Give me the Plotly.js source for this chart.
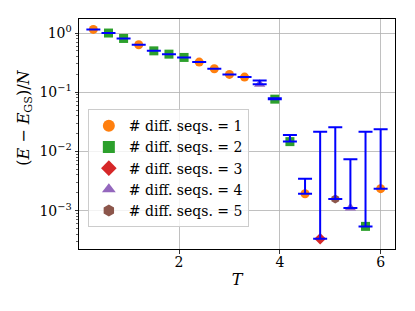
<!DOCTYPE html>
<html><head><meta charset="utf-8">
<script src="https://cdn.plot.ly/plotly-3.0.1.min.js"></script>
<style>html,body{margin:0;padding:0;background:#fff}#chart{width:415px;height:311px}</style>
</head><body><div id="chart"></div>
<script>
// Temperature values
const temperature = [0.3,0.6,0.9,1.2,1.5,1.8,2.1,2.4,2.7,3.0,3.3,3.6,3.9,4.2,4.5,4.8,5.1,5.4,5.7,6.0];
// (E - E_GS)/N
const energy = [1.15,1.0,0.81,0.634,0.50,0.44,0.387,0.323,0.249,0.20,0.18,0.137,0.0764,0.01465,0.00193,0.000335,0.00157,0.00111,0.000542,0.00235];
// upper error (lower error is zero)
const upperErr = [0,0,0,0,0,0,0,0,0,0,0,0.021,0.003,0.00435,0.00154,0.02127,0.0241,0.00627,0.02106,0.02145];
// number of different sequences at each temperature
const nSeqs = [1,2,2,1,2,2,2,1,1,1,1,4,2,2,1,3,5,4,2,1];

const categories = [1,2,3,4,5];
const catColors = ['#ff7f0e','#2ca02c','#d62728','#9467bd','#8c564b'];
const catSymbols = ['circle','square','diamond','triangle-up','hexagon'];
const catSizes = [9,9,9,10,9];

const yTickVals = [1e-3,1e-2,1e-1,1];
const yTickText = ['10<sup>−3</sup>','10<sup>−2</sup>','10<sup>−1</sup>','10<sup>0</sup>'];
const xTickVals = [2,4,6];

const minorVals = [];
for (let d = -4; d <= 0; d++) for (let m = 2; m <= 9; m++) minorVals.push(m * Math.pow(10, d));

const fam = 'DejaVu Serif';
const traces = categories.map((c, i) => {
  const xs = [], ys = [];
  nSeqs.forEach((n, k) => { if (n === c) { xs.push(temperature[k]); ys.push(energy[k]); } });
  return {
    x: xs, y: ys, type: 'scatter', mode: 'markers',
    name: '# diff. seqs. = ' + c, legendgroup: 'g' + c,
    marker: {color: catColors[i], symbol: catSymbols[i], size: catSizes[i], line: {width: 0}}
  };
});
traces.push({
  x: temperature, y: energy, type: 'scatter', mode: 'markers', showlegend: false,
  marker: {color: 'rgba(0,0,0,0)', size: 1},
  error_y: {type: 'data', symmetric: false, array: upperErr, arrayminus: temperature.map(() => 0),
            color: '#0000ff', thickness: 2, width: 7}
});

const layout = {
  width: 415, height: 311,
  margin: {l: 79, r: 20, t: 19, b: 62},
  paper_bgcolor: '#fff', plot_bgcolor: '#fff',
  font: {family: fam, color: '#000', size: 14},
  showlegend: true,
  legend: {x: 0.028, y: 0.608, xanchor: 'left', yanchor: 'top',
           bgcolor: 'rgba(255,255,255,0.8)', bordercolor: '#cccccc', borderwidth: 1,
           font: {family: fam, size: 14, color: '#000'}, tracegroupgap: 0, itemsizing: 'constant'},
  xaxis: {range: [0.015, 6.285], tickmode: 'array', tickvals: xTickVals,
          ticks: 'outside', ticklen: 3.5, tickwidth: 0.8, tickcolor: '#000', ticklabelstandoff: -3,
          showline: true, linecolor: '#000', linewidth: 1, mirror: true,
          showgrid: true, gridcolor: '#b0b0b0', gridwidth: 0.8, zeroline: false,
          tickfont: {family: fam, size: 14, color: '#000'},
          title: {text: '<i>T</i>', font: {family: fam, size: 16, color: '#000'}, standoff: 4}},
  yaxis: {type: 'log', range: [-3.648, 0.237], tickmode: 'array', tickvals: yTickVals, ticktext: yTickText,
          ticks: 'outside', ticklen: 3.5, tickwidth: 0.8, tickcolor: '#000',
          minor: {tickmode: 'array', tickvals: minorVals, ticks: 'outside', ticklen: 2, tickwidth: 0.6, tickcolor: '#000', showgrid: false},
          showline: true, linecolor: '#000', linewidth: 1, mirror: true,
          showgrid: true, gridcolor: '#b0b0b0', gridwidth: 0.8, zeroline: false,
          tickfont: {family: fam, size: 14, color: '#000'}},
  annotations: [{
    text: '(<i>E</i> − <i>E</i><sub>GS</sub>)/<i>N</i>', textangle: -90,
    xref: 'paper', yref: 'paper', x: -0.171, y: 0.57, xanchor: 'center', yanchor: 'middle',
    showarrow: false, font: {family: fam, size: 16, color: '#000'}
  }]
};
Plotly.newPlot('chart', traces, layout, {displayModeBar: false, staticPlot: true});
</script></body></html>
